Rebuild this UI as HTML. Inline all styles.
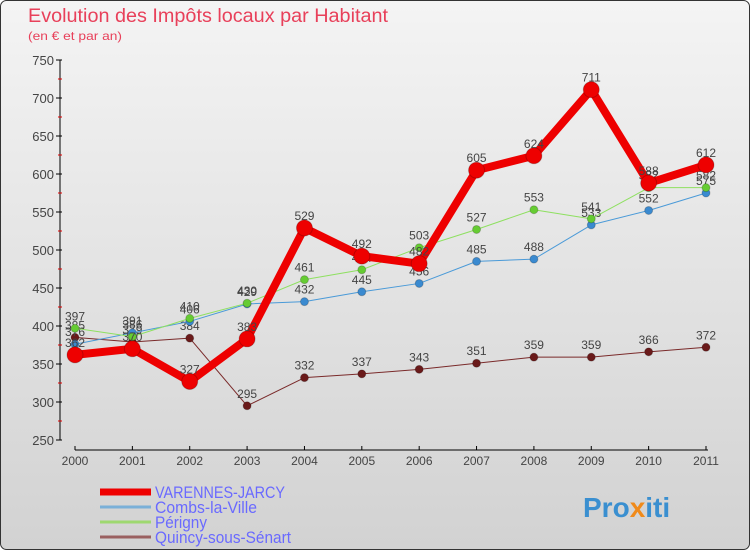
<!DOCTYPE html>
<html><head><meta charset="utf-8"><style>
html,body{margin:0;padding:0;}
body{width:750px;height:550px;overflow:hidden;font-family:"Liberation Sans",sans-serif;}
</style></head><body>
<svg width="750" height="550" xmlns="http://www.w3.org/2000/svg" id="chart">
<defs><linearGradient id="bg" x1="0" y1="0" x2="0" y2="1"><stop offset="0" stop-color="#f4f4f4"/><stop offset="1" stop-color="#d2d2d2"/></linearGradient></defs>
<rect x="0.5" y="0.5" width="749" height="549" rx="6" fill="url(#bg)" stroke="#333"/>
<text x="28" y="22" font-size="19" fill="#e8405a" textLength="360" lengthAdjust="spacingAndGlyphs">Evolution des Impôts locaux par Habitant</text>
<text x="28" y="40" font-size="12" fill="#e8405a" textLength="94" lengthAdjust="spacingAndGlyphs">(en € et par an)</text>
<g id="axes"></g><g id="series"></g><g id="legend"></g>
<text x="583" y="517" font-size="28" font-weight="bold" fill="#3a8fd0">Pro<tspan fill="#f08a1a">x</tspan><tspan fill="#3a8fd0">iti</tspan></text>
</svg>
<script>
const years=["2000","2001","2002","2003","2004","2005","2006","2007","2008","2009","2010","2011"];
const yTicks=[250,300,350,400,450,500,550,600,650,700,750];
const varennes=[362,370,327,383,529,492,482,605,624,711,588,612];
const combs=[376,391,406,429,432,445,456,485,488,533,552,575];
const perigny=[397,386,410,430,461,474,503,527,553,541,582,582];
const quincy=[385,379,384,295,332,337,343,351,359,359,366,372];
const NS="http://www.w3.org/2000/svg";
const X=i=>75+i*(631/11);
const Y=v=>440-(v-250)*0.76;
function mk(t,a,p){const e=document.createElementNS(NS,t);for(const k in a)e.setAttribute(k,a[k]);p.appendChild(e);return e;}
const ax=document.getElementById('axes');
let e=mk('line',{x1:60,y1:60,x2:60,y2:440,stroke:'#000'},ax);


e=mk('line',{x1:75,y1:450,x2:708,y2:450,stroke:'#000'},ax);


yTicks.forEach((v,i)=>{
 mk('line',{x1:56,y1:Y(v),x2:62,y2:Y(v),stroke:'#000'},ax);
 if(i<yTicks.length-1) mk('line',{x1:58,y1:Y(v+25),x2:62,y2:Y(v+25),stroke:'#d00'},ax);
 const t=mk('text',{x:54,y:Y(v)+5,'font-size':13,'text-anchor':'end',fill:'#444'},ax);t.textContent=v;
 
 
});
years.forEach((y,i)=>{
 mk('line',{x1:X(i),y1:446,x2:X(i),y2:450,stroke:'#000'},ax);
 const t=mk('text',{x:X(i),y:465,'font-size':12,'text-anchor':'middle',fill:'#444'},ax);t.textContent=y;
 
 
});
const sg=document.getElementById('series');
function series(data,color,w,r,name,dot){
 const g=mk('g',{},sg);
 
 
 mk('polyline',{points:data.map((v,i)=>X(i)+','+Y(v)).join(' '),fill:'none',stroke:color,'stroke-width':w,'stroke-linejoin':'round'},g);
 data.forEach((v,i)=>{
  const c=mk('circle',{cx:X(i),cy:Y(v),r:r,fill:dot,stroke:'#0003'},g);
  
  
  const t=mk('text',{x:X(i),y:Y(v)-8,'font-size':12,'text-anchor':'middle',fill:'#444'},g);t.textContent=v;
 });
}
series(quincy,'#7a2a2a',1,4,'series-quincy','#6a1a1a');
series(combs,'#4a9ad8',1,4,'series-combs','#3a8ad0');
series(perigny,'#8ee060',1,4,'series-perigny','#66cc33');
series(varennes,'#ee0000',8,8,'series-varennes','#ee0000');
const lg=document.getElementById('legend');
[["VARENNES-JARCY","#ee0000",7,130],["Combs-la-Ville","#7ab0d8",3,102],["Périgny","#9ed870",3,52],["Quincy-sous-Sénart","#9a6060",3,136]].forEach((d,i)=>{
 const y=492+i*15;
 const g=mk('g',{},lg);
 
 
 mk('line',{x1:100,y1:y,x2:151,y2:y,stroke:d[1],'stroke-width':d[2]},g);
 const t=mk('text',{x:155,y:y+6,'font-size':17,fill:'#6a6aff',textLength:d[3],lengthAdjust:'spacingAndGlyphs'},g);t.textContent=d[0];
});
</script>
</body></html>
